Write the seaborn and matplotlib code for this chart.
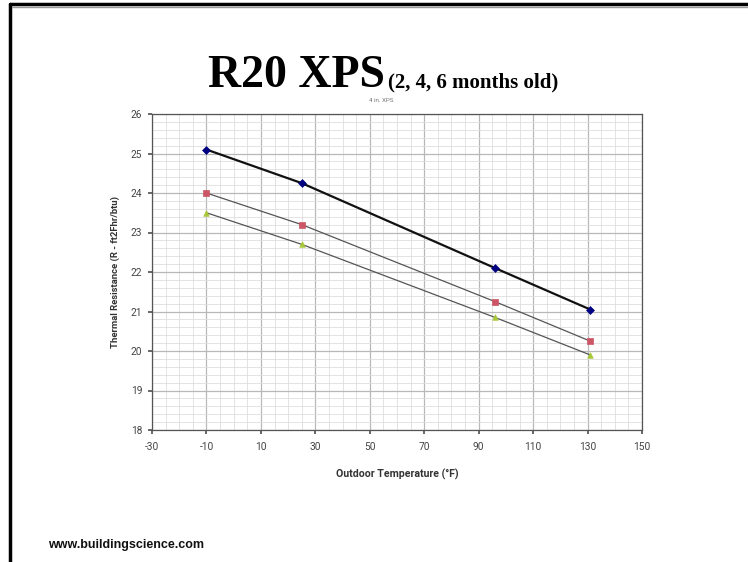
import matplotlib
matplotlib.use("Agg")
import matplotlib.pyplot as plt
import seaborn as sns
import pandas as pd
import numpy as np
from matplotlib.lines import Line2D
from matplotlib.ticker import MultipleLocator

# Data
temps = [-10, 25, 96, 131]
r_2mo = [25.1, 24.25, 22.1, 21.05]
r_4mo = [24.0, 23.2, 21.25, 20.25]
r_6mo = [23.5, 22.7, 20.85, 19.9]
series_names = ["2 months", "4 months", "6 months"]
x_ticks = [-30, -10, 10, 30, 50, 70, 90, 110, 130, 150]
y_ticks = [18, 19, 20, 21, 22, 23, 24, 25, 26]

df = pd.DataFrame({
    "temp": temps * 3,
    "R": r_2mo + r_4mo + r_6mo,
    "series": sum([[n] * len(temps) for n in series_names], []),
})

sns.set_theme(style="white")
plt.rcParams["font.family"] = ["Roboto", "DejaVu Sans"]

fig = plt.figure(figsize=(7.48, 5.62), dpi=100)
ax = fig.add_axes([152 / 748, 1 - 430 / 562, 490 / 748, 316 / 562])

line_colors = {"2 months": "#111111", "4 months": "#555555", "6 months": "#555555"}
line_widths = {"2 months": 1.6, "4 months": 0.9, "6 months": 0.9}
marker_colors = {"2 months": "#000080", "4 months": "#cc5566", "6 months": "#a8c83a"}
markers = {"2 months": "D", "4 months": "s", "6 months": "^"}
marker_sizes = {"2 months": 16, "4 months": 16, "6 months": 16}

for name in series_names:
    sub = df[df["series"] == name]
    sns.lineplot(data=sub, x="temp", y="R", ax=ax, color=line_colors[name],
                 linewidth=line_widths[name], sort=True, legend=False, zorder=3)
    sns.scatterplot(data=sub, x="temp", y="R", ax=ax, color=marker_colors[name],
                    marker=markers[name], s=marker_sizes[name], edgecolor=marker_colors[name],
                    linewidth=0.5, legend=False, zorder=4)

ax.set_xlim(-30, 150)
ax.set_ylim(18, 26)
ax.set_xticks(x_ticks)
ax.set_yticks(y_ticks)
ax.set_xticklabels([str(t) for t in x_ticks])
ax.set_yticklabels([str(t) for t in y_ticks])
ax.xaxis.set_minor_locator(MultipleLocator(5))
ax.yaxis.set_minor_locator(MultipleLocator(0.2))
ax.grid(which="major", color="#b8b8b8", linewidth=0.9)
ax.grid(which="minor", color="#dedede", linewidth=0.6)
ax.set_axisbelow(True)
for s in ax.spines.values():
    s.set_color("#555555")
    s.set_linewidth(0.9)
ax.tick_params(axis="both", which="major", labelsize=7.3, labelcolor="#444444",
               direction="out", length=3, color="#555555", bottom=True, left=True)
ax.tick_params(axis="x", which="major", pad=6)
ax.tick_params(axis="y", which="major", pad=4)
ax.tick_params(axis="both", which="minor", length=0)
ax.set_xlabel("Outdoor Temperature (°F)", fontsize=7.6, color="#333333", fontweight="bold", labelpad=12)
ax.set_ylabel("Thermal Resistance (R - ft2Fhr/btu)", fontsize=6.8, color="#333333", fontweight="bold", labelpad=8)

# Titles
fig.text(208 / 748, 1 - 87 / 562, "R20 XPS", fontsize=33, fontweight="bold",
         family=["Liberation Serif", "DejaVu Serif"], ha="left", va="baseline", color="black")
fig.text(388 / 748, 1 - 87 / 562, "(2, 4, 6 months old)", fontsize=15, fontweight="bold",
         family=["Liberation Serif", "DejaVu Serif"], ha="left", va="baseline", color="black")
fig.text(381 / 748, 1 - 100 / 562, "4 in. XPS", fontsize=4.5, color="#777777", ha="center", va="center")

fig.text(48 / 748, 1 - 545 / 562, "www.buildingscience.com", fontsize=9, fontweight="bold",
         family=["Liberation Sans", "DejaVu Sans"], color="#111111", ha="left", va="center")

# Slide frame
fig.add_artist(Line2D([10 / 748, 1], [1 - 4 / 562, 1 - 4 / 562], color="black", linewidth=2.5,
                      transform=fig.transFigure))
fig.add_artist(Line2D([10 / 748, 10 / 748], [0, 1 - 4 / 562], color="black", linewidth=2.5,
                      transform=fig.transFigure))
fig.add_artist(Line2D([12 / 748, 1], [1 - 6.5 / 562, 1 - 6.5 / 562], color="#999999", linewidth=1,
                      transform=fig.transFigure))

fig.savefig("out.png", dpi=100, facecolor="white")
